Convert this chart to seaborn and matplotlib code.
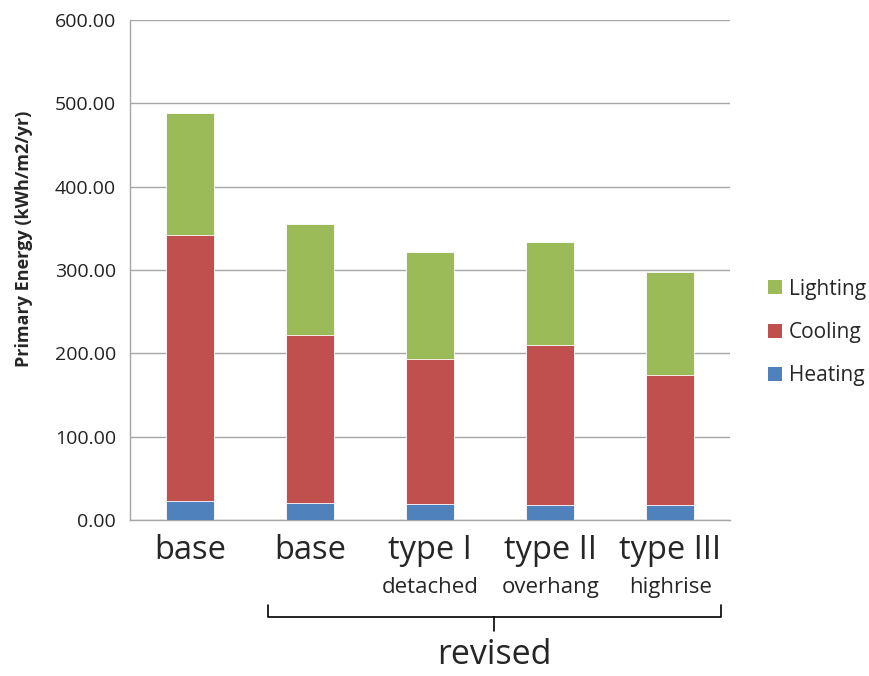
import matplotlib
matplotlib.use("Agg")
import matplotlib.pyplot as plt
from matplotlib.patches import Patch
import seaborn as sns
import pandas as pd
import numpy as np

# Scenario labels and sub-captions
categories = ["base", "base", "type I", "type II", "type III"]
subcaptions = ["", "", "detached", "overhang", "highrise"]
group_label = "revised"

# Primary energy by end use (kWh/m2/yr)
heating = [22.5, 20.8, 19.6, 18.0, 18.0]
cooling = [319.0, 201.2, 173.8, 191.8, 155.4]
lighting = [146.5, 133.0, 128.6, 123.7, 124.6]

yticks = [0, 100, 200, 300, 400, 500, 600]

colors = {"Heating": "#4F81BD", "Cooling": "#C0504D", "Lighting": "#9BBB59"}

sns.set_style("white")
plt.rcParams["font.family"] = ["Open Sans", "DejaVu Sans"]

x_keys = [f"c{i}" for i in range(len(categories))]
df = pd.DataFrame({
    "key": x_keys,
    "Heating": heating,
    "Cooling": cooling,
    "Lighting": lighting,
})
df["cum_cool"] = df["Heating"] + df["Cooling"]
df["cum_light"] = df["cum_cool"] + df["Lighting"]

fig = plt.figure(figsize=(8.69, 6.76), dpi=100)
ax = fig.add_axes([0.1496, 0.2308, 0.8404 - 0.1496, 0.9704 - 0.2308])

# Stacked bars: draw cumulative layers from top to bottom
for col, name in [("cum_light", "Lighting"), ("cum_cool", "Cooling"), ("Heating", "Heating")]:
    sns.barplot(data=df, x="key", y=col, color=colors[name], saturation=1,
                width=0.4, ax=ax, edgecolor="white", linewidth=0.6, zorder=3)

ax.set_xlim(-0.5, len(categories) - 0.5)
ax.set_ylim(0, 600)
ax.set_yticks(yticks)
ax.set_yticklabels([f"{v:.2f}" for v in yticks], fontsize=14, color="#222222")
ax.yaxis.grid(True, color="#A6A6A6", linewidth=1.0, zorder=0)
ax.set_axisbelow(True)

for s in ["top", "right"]:
    ax.spines[s].set_visible(False)
for s in ["left", "bottom"]:
    ax.spines[s].set_color("#A6A6A6")
    ax.spines[s].set_linewidth(1.0)

ax.tick_params(axis="y", length=5, color="#A6A6A6", width=1.0, pad=5)
# Category boundary ticks on the x axis
ax.set_xticks(np.arange(-0.5, len(categories), 1.0))
ax.set_xticklabels([])
ax.tick_params(axis="x", length=6, color="#A6A6A6", width=1.0, direction="out")
ax.set_xlabel("")
ax.set_ylabel("Primary Energy (kWh/m2/yr)", fontsize=13, fontweight="bold")
ax.yaxis.set_label_coords(-0.161, 0.562)

trans = ax.get_xaxis_transform()
for i, (cat, sub) in enumerate(zip(categories, subcaptions)):
    ax.text(i, -0.062, cat, transform=trans, ha="center", va="center", fontsize=23.5)
    if sub:
        ax.text(i, -0.136, sub, transform=trans, ha="center", va="center", fontsize=16)

# Bracket under the revised group
fig_h = 676.0
fig_w = 869.0
def fx(px):
    return px / fig_w
def fy(py):
    return 1 - py / fig_h
bx0, bx1, bxm = 268, 721, 494
fig.add_artist(plt.Line2D([fx(bx0), fx(bx0), fx(bx1), fx(bx1)],
                          [fy(605), fy(617), fy(617), fy(605)],
                          color="black", linewidth=1.2))
fig.add_artist(plt.Line2D([fx(bxm), fx(bxm)], [fy(617), fy(631)],
                          color="black", linewidth=1.2))
fig.text(fx(bxm), fy(655), group_label, ha="center", va="center", fontsize=24.5)

handles = [Patch(facecolor=colors[n], edgecolor="none", label=n)
           for n in ["Lighting", "Cooling", "Heating"]]
fig.legend(handles=handles, loc="center left", bbox_to_anchor=(fx(768), fy(332.5)),
           frameon=False, fontsize=15, handlelength=0.65, handleheight=0.65,
           handletextpad=0.35, labelspacing=1.08, borderpad=0, borderaxespad=0)

fig.savefig("out.png", dpi=100)
